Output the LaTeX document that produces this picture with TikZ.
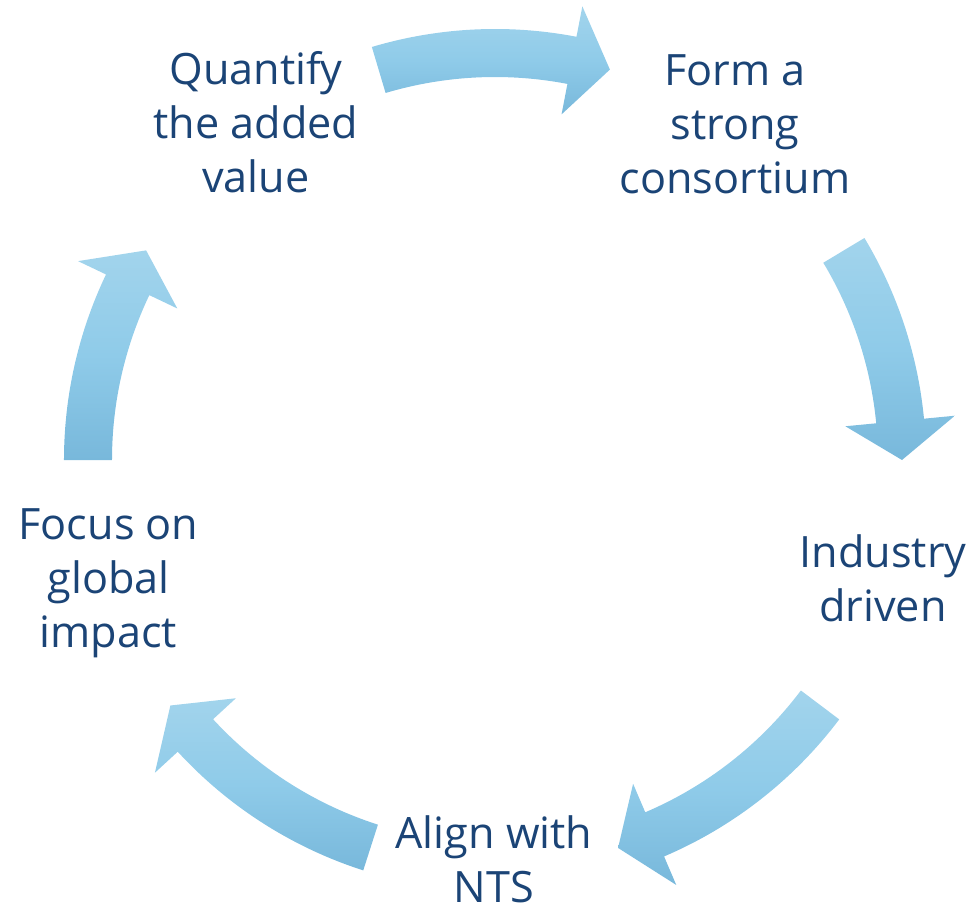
\documentclass[tikz,border=0pt]{standalone}
\usepackage{fontspec}
\setmainfont{Open Sans}
\definecolor{txtblue}{HTML}{1B4476}
\definecolor{arrTop}{HTML}{A2D4EC}
\definecolor{arrMid}{HTML}{8FCBE9}
\definecolor{arrBot}{HTML}{78B8DB}
\newcommand\cycarrow[2]{%
  \pgfmathsetmacro\cycbase{#2+5.5}%
  \shade[cycshade] (#1:431) arc[start angle=#1, end angle=\cycbase, radius=215.5pt]
    -- (\cycbase:462) -- (#2:407) -- (\cycbase:352) -- (\cycbase:383)
    arc[start angle=\cycbase, end angle=#1, radius=191.5pt] -- cycle;}
\begin{document}
\begin{tikzpicture}[x=0.5pt,y=0.5pt,
  lbl/.style={font=\fontsize{21.6}{27}\selectfont, text=txtblue, align=center, inner sep=0pt, anchor=base},
  cycshade/.style={top color=arrTop, bottom color=arrBot, middle color=arrMid}]
\useasboundingbox (-495,-450) rectangle (479,460);
% arrows (clockwise)
\cycarrow{106.6}{73.6}
\cycarrow{31}{0}
\cycarrow{-37}{-72.4}
\cycarrow{-107.8}{-142.9}
\cycarrow{180}{149}
% labels (anchor = baseline of last line)
\node[lbl] (quant) at (-239,267) {Quantify\\the added\\value};
\node[lbl] (form) at (240,266) {Form a\\strong\\consortium};
\node[lbl] (indus) at (388,-161) {Industry\\driven};
\node[lbl] (align) at (-1,-442) {Align with\\NTS};
\node[lbl] (focus) at (-386.5,-187) {Focus on\\global\\impact};
\end{tikzpicture}
\end{document}
